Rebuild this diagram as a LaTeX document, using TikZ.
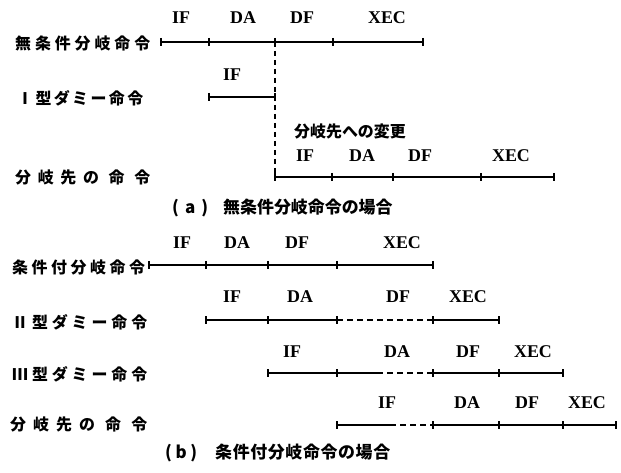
\documentclass[tikz,border=0pt]{standalone}
\usepackage{fontspec}
\setmainfont{Liberation Serif}
\newfontfamily\jp{Noto Sans CJK JP}
\newcommand\spreadbox[2]{\makebox[#1][s]{#2}}
\begin{document}
\begin{tikzpicture}[x=1bp,y=-1bp,
  seg/.style={line width=1.1bp},
  dseg/.style={line width=1.1bp, dash pattern=on 6bp off 4bp},
  phase/.style={font=\bfseries\fontsize{18}{18}\selectfont, inner sep=0},
  rowlab/.style={font=\jp\bfseries\fontsize{16}{16}\selectfont, anchor=west, inner sep=0},
  note/.style={font=\jp\bfseries\fontsize{16}{16}\selectfont, inner sep=0},
  captext/.style={font=\jp\bfseries\fontsize{17}{17}\selectfont, anchor=west, inner sep=0},
]
\useasboundingbox (0,0) rectangle (621,473);

% ---------- (a) ----------
\node[rowlab] (la1) at (15,43) {\spreadbox{135bp}{無\hfil 条\hfil 件\hfil 分\hfil 岐\hfil 命\hfil 令}};
\node[rowlab] (la2) at (17,98) {\spreadbox{126bp}{Ⅰ\hfil 型\hfil ダ\hfil ミ\hfil ー\hfil 命\hfil 令}};
\node[rowlab] (la3) at (15,178) {\spreadbox{135bp}{分\hfil 岐\hfil 先\hfil の\hfil\hskip3bp 命\hfil\hskip3bp 令}};

\coordinate (a0) at (161,42);
\coordinate (a1) at (209,42);
\coordinate (a2) at (275,42);
\coordinate (a3) at (333,42);
\coordinate (a4) at (423,42);
\draw[seg] (a0) -- (a4);
\foreach \c in {a0,a1,a2,a3,a4} \draw[seg] ([yshift=4bp]\c) -- ([yshift=-4bp]\c);
\node[phase] (pa1) at (181,18) {IF};
\node[phase] (pa2) at (243,18) {DA};
\node[phase] (pa3) at (302,18) {DF};
\node[phase] (pa4) at (387,18) {XEC};

\coordinate (b0) at (209,97);
\coordinate (b1) at (275,97);
\draw[seg] (b0) -- (b1);
\foreach \c in {b0,b1} \draw[seg] ([yshift=4bp]\c) -- ([yshift=-4bp]\c);
\node[phase] (pb1) at (232,75) {IF};

\coordinate (c0) at (275,177);
\coordinate (c1) at (332,177);
\coordinate (c2) at (393,177);
\coordinate (c3) at (481,177);
\coordinate (c4) at (554,177);
\draw[seg] (c0) -- (c4);
\foreach \c in {c0,c1,c2,c3,c4} \draw[seg] ([yshift=4bp]\c) -- ([yshift=-4bp]\c);
\node[phase] (pc1) at (305,156) {IF};
\node[phase] (pc2) at (362,156) {DA};
\node[phase] (pc3) at (420,156) {DF};
\node[phase] (pc4) at (511,156) {XEC};
\node[note, anchor=west] (chg) at (294,132) {分岐先への変更};

\draw[line width=1.1bp, dash pattern=on 5bp off 4bp] (a2) -- (c0);

\node[captext] (capa) at (172,208) {\spreadbox{36bp}{(\hfil a\hfil )}\hskip15bp 無条件分岐命令の場合};

% ---------- (b) ----------
\node[rowlab] (lb1) at (12,267) {\spreadbox{133bp}{条\hfil 件\hfil 付\hfil 分\hfil 岐\hfil 命\hfil 令}};
\node[rowlab] (lb2) at (12,322) {\spreadbox{135bp}{Ⅱ\hfil 型\hfil ダ\hfil ミ\hfil ー\hfil 命\hfil 令}};
\node[rowlab] (lb3) at (12,374) {\spreadbox{135bp}{Ⅲ\hfil 型\hfil ダ\hfil ミ\hfil ー\hfil 命\hfil 令}};
\node[rowlab] (lb4) at (10,424) {\spreadbox{137bp}{分\hfil 岐\hfil 先\hfil の\hfil\hskip3bp 命\hfil\hskip3bp 令}};

% row 1
\coordinate (d0) at (149,265);
\coordinate (d1) at (206,265);
\coordinate (d2) at (268,265);
\coordinate (d3) at (337,265);
\coordinate (d4) at (433,265);
\draw[seg] (d0) -- (d4);
\foreach \c in {d0,d1,d2,d3,d4} \draw[seg] ([yshift=4bp]\c) -- ([yshift=-4bp]\c);
\node[phase] (pd1) at (182,243) {IF};
\node[phase] (pd2) at (237,243) {DA};
\node[phase] (pd3) at (297,243) {DF};
\node[phase] (pd4) at (402,243) {XEC};

% row 2
\coordinate (e0) at (206,320);
\coordinate (e1) at (268,320);
\coordinate (e2) at (337,320);
\coordinate (e3) at (433,320);
\coordinate (e4) at (499,320);
\draw[seg] (e0) -- (e2);
\draw[dseg] (e2) -- (e3);
\draw[seg] (e3) -- (e4);
\foreach \c in {e0,e1,e2,e3,e4} \draw[seg] ([yshift=4bp]\c) -- ([yshift=-4bp]\c);
\node[phase] (pe1) at (232,297) {IF};
\node[phase] (pe2) at (300,297) {DA};
\node[phase] (pe3) at (398,297) {DF};
\node[phase] (pe4) at (468,297) {XEC};

% row 3
\coordinate (f0) at (268,373);
\coordinate (f1) at (337,373);
\coordinate (fm) at (377,373);
\coordinate (f2) at (433,373);
\coordinate (f3) at (499,373);
\coordinate (f4) at (563,373);
\draw[seg] (f0) -- (fm);
\draw[dseg] (fm) -- (f2);
\draw[seg] (f2) -- (f4);
\foreach \c in {f0,f1,f2,f3,f4} \draw[seg] ([yshift=4bp]\c) -- ([yshift=-4bp]\c);
\node[phase] (pf1) at (292,352) {IF};
\node[phase] (pf2) at (397,352) {DA};
\node[phase] (pf3) at (468,352) {DF};
\node[phase] (pf4) at (533,352) {XEC};

% row 4
\coordinate (g0) at (337,425);
\coordinate (gm) at (390,425);
\coordinate (g1) at (433,425);
\coordinate (g2) at (499,425);
\coordinate (g3) at (563,425);
\coordinate (g4) at (616,425);
\draw[seg] (g0) -- (gm);
\draw[dseg] (gm) -- (g1);
\draw[seg] (g1) -- (g4);
\foreach \c in {g0,g1,g2,g3,g4} \draw[seg] ([yshift=4bp]\c) -- ([yshift=-4bp]\c);
\node[phase] (pg1) at (387,403) {IF};
\node[phase] (pg2) at (467,403) {DA};
\node[phase] (pg3) at (527,403) {DF};
\node[phase] (pg4) at (587,403) {XEC};

\node[captext] (capb) at (165,453) {\spreadbox{32bp}{(\hfil b\hfil )}\hskip18bp \spreadbox{175bp}{条\hfil 件\hfil 付\hfil 分\hfil 岐\hfil 命\hfil 令\hfil の\hfil 場\hfil 合}};
\end{tikzpicture}
\end{document}
